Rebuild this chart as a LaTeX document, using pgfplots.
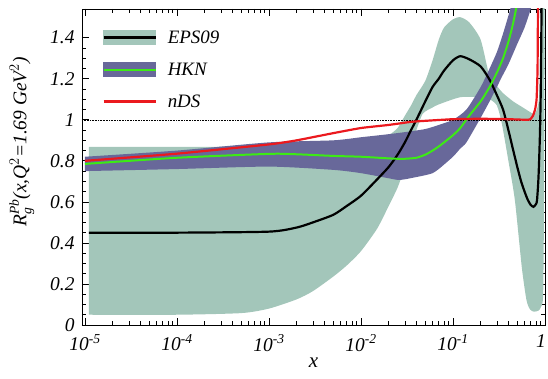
\documentclass[border=0pt]{standalone}
\usepackage{fontspec}
\setmainfont{Liberation Serif}
\usepackage{amsmath}
\usepackage{pgfplots}
\pgfplotsset{compat=1.18}
\definecolor{epsc}{RGB}{163,198,186}
\definecolor{hknc}{RGB}{104,104,154}
\definecolor{hknl}{RGB}{60,235,20}
\definecolor{ndsc}{RGB}{235,25,30}
\begin{document}
\begin{tikzpicture}
\begin{axis}[
  at={(0,0)}, anchor=south west,
  scale only axis, width=463bp, height=316bp,
  xmode=log, xmin=9.28e-6, xmax=1, ymin=0, ymax=1.54,
  axis line style={line width=0.8pt},
  tick style={black, line width=0.7pt},
  major tick length=7bp, minor tick length=4bp,
  tick align=inside,
  xtick={1e-5,1e-4,1e-3,1e-2,1e-1,1},
  xticklabels={10\textsuperscript{-5},10\textsuperscript{-4},10\textsuperscript{-3},10\textsuperscript{-2},10\textsuperscript{-1},1\hspace*{8bp}},
  ytick={0,0.2,0.4,0.6,0.8,1,1.2,1.4},
  minor y tick num=3,
  ticklabel style={font=\fontsize{19.5}{21}\selectfont\itshape},
  xticklabel style={yshift=-6bp},
  yticklabel style={xshift=-4bp},
  /pgf/number format/assume math mode=true,
  xlabel={x},
  ylabel={R$^{\textit{Pb}}_{\textit{g}}$(x,Q$^{2}$=1.69 GeV$^{2}$)},
  every axis x label/.style={at={(axis description cs:0.5,-0.12)}, anchor=center, font=\fontsize{21}{23}\selectfont\itshape},
  every axis y label/.style={at={(axis description cs:-0.13,0.579)}, rotate=90, anchor=center, font=\fontsize{19.5}{21}\selectfont\itshape},
  legend style={at={(axis description cs:0.037,0.945)}, anchor=north west, draw=none, fill=none,
    font=\fontsize{19}{21}\selectfont\itshape, row sep=14bp},
  legend cell align=left,
]
% EPS09 band: upper edge left to right, lower edge right to left
\addplot[fill=epsc, draw=none, forget plot, smooth, tension=0.4] coordinates {
(1.1e-5,0.868) (1e-4,0.868) (1e-3,0.87) (3e-3,0.875) (0.01,0.89) (0.015,0.905) (0.02,0.925)
(0.025,0.96) (0.03,1.02) (0.035,1.07) (0.04,1.12) (0.05,1.19) (0.06,1.29) (0.07,1.39)
(0.08,1.45) (0.1,1.49) (0.12,1.50) (0.15,1.475) (0.2,1.39) (0.25,1.21) (0.3,1.165)
(0.35,1.13) (0.45,1.09) (0.575,1.06) (0.74,1.03) (0.8,1.04) (0.86,1.1) (0.9,1.3) (0.93,1.6)
(0.99,1.6) (0.975,0.6) (0.955,0.15) (0.91,0.09) (0.85,0.07) (0.76,0.065) (0.69,0.075)
(0.63,0.12) (0.56,0.28) (0.47,0.61) (0.4,0.80) (0.34,0.98) (0.3,1.07) (0.25,1.10)
(0.2,1.11) (0.12,1.11) (0.07,1.075) (0.06,1.06) (0.047,1.03) (0.04,0.95) (0.035,0.88)
(0.03,0.77) (0.025,0.67) (0.02,0.58) (0.015,0.47) (0.01,0.36) (7e-3,0.29) (5e-3,0.236)
(3e-3,0.165) (2e-3,0.125) (1e-3,0.08) (5e-4,0.058) (1e-4,0.05) (1.1e-5,0.05)
} -- cycle;
% HKN band
\addplot[fill=hknc, draw=none, forget plot, smooth, tension=0.4] coordinates {
(1e-5,0.82) (1e-4,0.85) (1e-3,0.89) (5e-3,0.90) (0.01,0.915) (0.02,0.93) (0.03,0.94)
(0.05,0.955) (0.07,0.975) (0.1,1.0) (0.14,1.05) (0.2,1.16) (0.25,1.25) (0.3,1.33)
(0.35,1.42) (0.42,1.54) (0.45,1.6)
(0.75,1.6) (0.7,1.54) (0.6,1.45) (0.5,1.37) (0.4,1.27) (0.35,1.22) (0.3,1.16) (0.25,1.09)
(0.2,1.01) (0.14,0.89) (0.12,0.86) (0.1,0.82) (0.07,0.76) (0.06,0.74) (0.05,0.73)
(0.03,0.71) (0.025,0.707) (0.02,0.715) (0.01,0.74) (5e-3,0.756) (1e-3,0.772) (1e-4,0.76)
(1e-5,0.75)
} -- cycle;
% reference line
\addplot[black, densely dotted, line width=0.6pt, forget plot] coordinates {(9.28e-6,1) (1,1)};
% EPS09 central
\addplot[black, line width=2.2pt, forget plot, smooth, tension=0.4] coordinates {
(1.1e-5,0.45) (1e-4,0.45) (1e-3,0.455) (2e-3,0.475) (3e-3,0.50) (5e-3,0.537) (7e-3,0.58)
(0.01,0.63) (0.015,0.71) (0.02,0.77) (0.025,0.83) (0.03,0.89) (0.035,0.95) (0.04,1.0)
(0.05,1.09) (0.06,1.16) (0.07,1.20) (0.08,1.24) (0.1,1.29) (0.12,1.31) (0.15,1.295)
(0.2,1.26) (0.25,1.195) (0.3,1.12) (0.35,1.05) (0.4,0.95) (0.45,0.854) (0.5,0.77)
(0.55,0.70) (0.6,0.65) (0.65,0.61) (0.7,0.585) (0.75,0.576) (0.8,0.59) (0.82,0.61)
(0.85,0.72) (0.88,0.92) (0.9,1.15) (0.92,1.6)
};
% HKN central
\addplot[hknl, line width=2pt, forget plot, smooth, tension=0.4] coordinates {
(1e-5,0.785) (1e-4,0.815) (1e-3,0.834) (2e-3,0.832) (5e-3,0.824) (0.01,0.82) (0.02,0.812)
(0.025,0.81) (0.03,0.81) (0.04,0.815) (0.05,0.83) (0.06,0.85) (0.07,0.87) (0.08,0.89)
(0.1,0.925) (0.12,0.96) (0.15,1.02) (0.2,1.09) (0.25,1.16) (0.3,1.23) (0.35,1.30)
(0.4,1.38) (0.45,1.47) (0.5,1.57)
};
% nDS
\addplot[ndsc, line width=2.2pt, forget plot, smooth, tension=0.3] coordinates {
(1e-5,0.80) (1e-4,0.835) (1e-3,0.88) (2e-3,0.90) (5e-3,0.935) (0.01,0.96) (0.02,0.975)
(0.035,0.99) (0.05,0.995) (0.1,1.003) (0.2,1.005) (0.4,1.003) (0.65,1.0) (0.7,1.005)
(0.74,1.02) (0.78,1.05) (0.81,1.1) (0.83,1.25) (0.84,1.6)
};
\addlegendimage{legend image code/.code={\fill[epsc] (0bp,-7bp) rectangle (52bp,7bp); \draw[black, line width=2.5pt] (0bp,0bp) -- (52bp,0bp); \path (62bp,0bp);}}
\addlegendentry{EPS09}
\addlegendimage{legend image code/.code={\fill[hknc] (0bp,-7bp) rectangle (52bp,7bp); \draw[hknl, line width=2pt] (0bp,0bp) -- (52bp,0bp); \path (62bp,0bp);}}
\addlegendentry{HKN}
\addlegendimage{legend image code/.code={\draw[ndsc, line width=2.5pt] (0bp,0bp) -- (52bp,0bp); \path (62bp,0bp);}}
\addlegendentry{nDS}
\end{axis}
\pgfresetboundingbox
\path (-82bp,-54bp) rectangle (466bp,325bp);
\end{tikzpicture}
\end{document}
